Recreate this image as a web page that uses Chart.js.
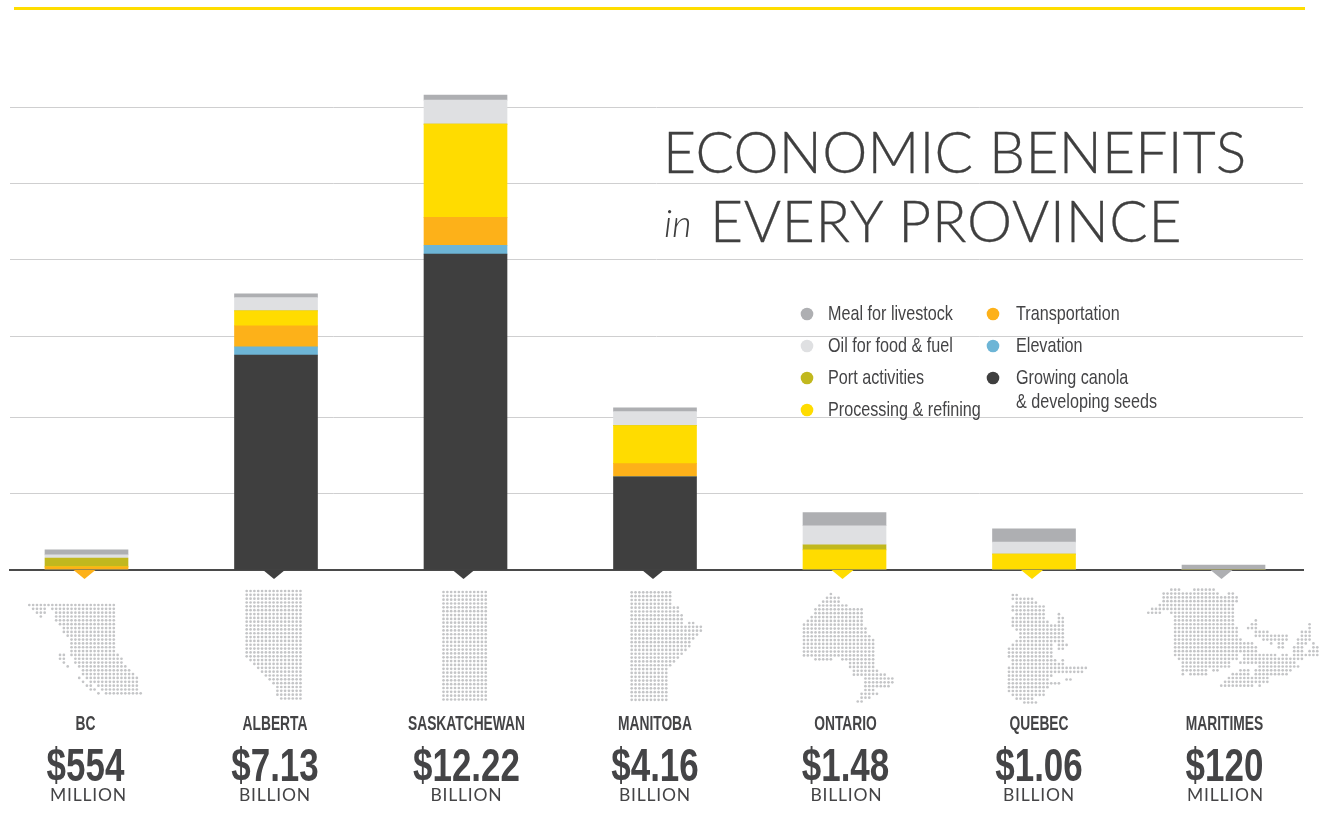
<!DOCTYPE html>
<html>
<head>
<meta charset="utf-8">
<title>Economic benefits in every province</title>
<script src="https://cdn.jsdelivr.net/npm/chart.js@4/dist/chart.umd.min.js"></script>
<style>
  html, body { margin: 0; padding: 0; background: #fff; }
  #wrap { position: relative; width: 1320px; height: 819px; overflow: hidden; }
  #rule { position: absolute; left: 14px; top: 7px; width: 1291px; height: 3px; background: #ffdd00; }
  canvas { position: absolute; left: 0; top: 0; }
  .title { position: absolute; color: #3f3f3f; font-family: Lato, sans-serif; font-weight: 300; font-size: 57px; line-height: 60px; white-space: nowrap; -webkit-text-stroke: 0.3px #3f3f3f; }
  .title.small { font-size: 38px; font-style: italic; -webkit-text-stroke: 0; }
</style>
</head>
<body>
<div id="wrap">
  <canvas id="chart" width="1320" height="819"></canvas>
  <div id="rule"></div>
  <div class="title" style="left:663px;top:121px;letter-spacing:0.25px;">ECONOMIC BENEFITS</div>
  <div class="title small" style="left:664px;top:192px;">in</div>
  <div class="title" style="left:710px;top:190px;letter-spacing:0.7px;">EVERY PROVINCE</div>
</div>
<script>
// values in billions of dollars
var provinces = ["BC", "ALBERTA", "SASKATCHEWAN", "MANITOBA", "ONTARIO", "QUEBEC", "MARITIMES"];
var totals = ["$554", "$7.13", "$12.22", "$4.16", "$1.48", "$1.06", "$120"];
var units = ["MILLION", "BILLION", "BILLION", "BILLION", "BILLION", "BILLION", "MILLION"];

var growing = [0, 5.54, 8.14, 2.40, 0, 0, 0];
var elevation = [0, 0.21, 0.23, 0, 0, 0, 0];
var transportation = [0.08, 0.54, 0.72, 0.34, 0, 0, 0];
var processing = [0, 0.39, 2.40, 0.98, 0.52, 0.41, 0];
var port = [0.23, 0, 0, 0, 0.13, 0, 0];
var oil = [0.08, 0.34, 0.62, 0.36, 0.49, 0.31, 0];
var meal = [0.13, 0.10, 0.13, 0.10, 0.34, 0.34, 0.13];

var gridTicks = [1.96, 3.94, 6.01, 7.99, 9.97, 11.91];

// dot maps, one string per row, "from-to" column runs
var mapBC = ["0-22", "1-4,6-22", "2-4,7-22", "3,7-22", "7-22", "8-22", "9-22", "9-22", "10-22", "11-22", "11-22", "11-22", "11-22",
  "8-9,11-23", "8-9,12-24", "9,12-24", "10,13-25", "14-26", "14-27", "13,15-28", "14,16-28", "15-16,18-28", "16-17,19-28", "18,20-29"];
var mapAlberta = ["0-14", "0-14", "0-14", "0-14", "0-14", "0-14", "0-14", "0-14", "0-14", "0-14", "0-14", "0-14", "0-14", "0-14", "0-14", "0-14", "0-14", "0-14",
  "1-14", "2-14", "3-14", "4-14", "5-14", "6-14", "7-14", "8-14", "8-14", "8-14", "9-14"];
var mapSask = ["0-11", "0-11", "0-11", "0-11", "0-11", "0-11", "0-11", "0-11", "0-11", "0-11", "0-11", "0-11", "0-11", "0-11", "0-11",
  "0-11", "0-11", "0-11", "0-11", "0-11", "0-11", "0-11", "0-11", "0-11", "0-11", "0-11", "0-11", "0-11", "0-11"];
var mapManitoba = ["0-10", "0-10", "0-10", "0-10", "0-12", "0-12", "0-13", "0-13", "0-13,15-16", "0-18", "0-18", "0-17", "0-16", "0-15", "0-15", "0-14", "0-13", "0-12", "0-11", "0-10",
  "0-9", "0-9", "0-9", "0-9", "0-9", "0-9", "0-9", "0-9", "0-9"];
var mapOntario = ["7", "6-9", "5-9", "4-11", "3-15", "3-15", "2-15", "1-15", "0-15", "0-16", "0-16", "0-17", "0-18", "0-18", "0-18", "0-18", "0-18",
  "3-7,10-18", "12-18", "12-18", "13-19", "13-21", "16-23", "16-23", "16-22", "16-18", "15-19", "15-17", "14-15"];
var mapQuebec = ["1-2", "1-6", "2-7", "1-9", "1-9", "2-9,13", "1-9,13-14", "1-10,13-14", "1-14", "2-14", "3-14", "3-14", "2-14", "1-11,13-15", "0-11,13-14", "0-11", "0-11",
  "1-12,14", "1-14", "0-20", "0-19", "0-11", "0-10,15-16", "0-13", "0-10", "0-9", "1-9", "2-6", "4-7"];
var mapMaritimes = ["6-8,12-17", "4-18,21-22", "4-23", "4-23", "3-22", "1-2,3-22", "0-3,6-22", "7-22", "7-22,28", "7-22,27-28,42", "7-23,26-28,42", "7-23,28-31,40-42", "7-23,28-36,40-42",
  "7-24,30-36,39-42", "7-27,32,34-35,39-41,43", "7-28,34-35,38-40,43-44", "7-28,38-40,42-44", "7-23,25-33,35-36,38-44", "8-23,25-40", "9-21,24-38", "9-21,29-39",
  "9-15,17-18,24-26,28-37", "9,11-15,22-26,28-36", "21-31", "20-31", "19-27,29"];

var maps = [mapBC, mapAlberta, mapSask, mapManitoba, mapOntario, mapQuebec, mapMaritimes];
var mapOrigins = [[29.3, 605], [246.7, 591], [443.5, 592], [631.7, 592.3], [804, 594], [1009, 595], [1148.3, 589.7]];
var DOT_STEP = 3.84;

var textDark = "#444446";
var sansFont = '"Liberation Sans", sans-serif';

function series(label, color, values) {
  return {
    label: label,
    backgroundColor: color,
    borderWidth: 0,
    barThickness: 83,
    stack: "all",
    data: values.map(function (v, i) { return { x: i, y: v }; })
  };
}

var datasets = [
  series("Growing canola\n& developing seeds", "#3f3f3f", growing),
  series("Elevation", "#6db5d6", elevation),
  series("Transportation", "#fdb119", transportation),
  series("Processing & refining", "#ffdc00", processing),
  series("Port activities", "#c1b81e", port),
  series("Oil for food & fuel", "#dfe0e2", oil),
  series("Meal for livestock", "#aeafb2", meal)
];

// legend columns, indexes into datasets
var legendCols = [
  { dot: 807, text: 828, items: [6, 5, 4, 3] },
  { dot: 993, text: 1016, items: [2, 1, 0] }
];
var legendRows = [314, 346, 378, 410];

var labelNudge = [-1, -1, 1, 0, 1, 5, 1];
var unitNudge = [3, 0, 0, 0, 1, 0, 1];

// no narrow font is installed, so squeeze the sans one
function narrowText(ctx, text, x, y, font, squeeze) {
  ctx.save();
  ctx.translate(x, y);
  ctx.scale(squeeze, 1);
  ctx.font = font;
  ctx.fillText(text, 0, 0);
  ctx.restore();
}

var provincePlugin = {
  id: "provinceExtras",
  afterDatasetsDraw: function (chart) {
    var ctx = chart.ctx, x = chart.scales.x, base = chart.scales.y.getPixelForValue(0);
    ctx.save();

    // little pointer under each bar, in the colour of its lowest segment
    provinces.forEach(function (p, i) {
      var ds = datasets.filter(function (d) { return d.data[i].y > 0; })[0];
      var cx = x.getPixelForValue(i) - 2;
      ctx.fillStyle = ds.backgroundColor;
      ctx.beginPath();
      ctx.moveTo(cx - 11, base);
      ctx.lineTo(cx + 11, base);
      ctx.lineTo(cx, base + 9);
      ctx.closePath();
      ctx.fill();
    });

    // dot maps
    ctx.fillStyle = "#c4c5c7";
    maps.forEach(function (rows, m) {
      rows.forEach(function (row, r) {
        row.split(",").forEach(function (run) {
          var ends = run.split("-");
          var from = +ends[0], to = +ends[ends.length - 1];
          for (var c = from; c <= to; c++) {
            ctx.beginPath();
            ctx.arc(mapOrigins[m][0] + c * DOT_STEP, mapOrigins[m][1] + r * DOT_STEP, 1.35, 0, Math.PI * 2);
            ctx.fill();
          }
        });
      });
    });

    // province names and amounts
    ctx.textAlign = "center";
    ctx.textBaseline = "alphabetic";
    ctx.fillStyle = textDark;
    provinces.forEach(function (p, i) {
      var cx = x.getPixelForValue(i) + labelNudge[i];
      narrowText(ctx, p, cx, 730, "bold 20px " + sansFont, 0.69);
      narrowText(ctx, totals[i], cx, 781, "bold 46px " + sansFont, 0.76);
      ctx.font = "400 17.5px Lato, sans-serif";
      ctx.letterSpacing = "0.8px";
      ctx.fillText(units[i], cx + unitNudge[i], 801);
      ctx.letterSpacing = "0px";
    });

    // legend
    ctx.textAlign = "left";
    ctx.textBaseline = "middle";
    legendCols.forEach(function (col) {
      col.items.forEach(function (idx, r) {
        var ds = datasets[idx], y = legendRows[r];
        ctx.fillStyle = ds.backgroundColor;
        ctx.beginPath();
        ctx.arc(col.dot, y, 6.3, 0, Math.PI * 2);
        ctx.fill();
        ctx.fillStyle = textDark;
        ds.label.split("\n").forEach(function (line, k) {
          narrowText(ctx, line, col.text, y + k * 24, "21px " + sansFont, 0.77);
        });
      });
    });
    ctx.restore();
  }
};

var config = {
  type: "bar",
  data: { datasets: datasets },
  plugins: [provincePlugin],
  options: {
    responsive: false,
    animation: false,
    layout: { padding: { left: 10, right: 17, top: 60, bottom: 0 } },
    plugins: {
      legend: { display: false },
      title: { display: false },
      tooltip: { enabled: false }
    },
    scales: {
      x: {
        type: "linear",
        offset: false,
        min: -0.4037,
        max: 6.4195,
        grid: { display: false },
        border: { color: "#4a4a4a", width: 2 },
        afterFit: function (scale) { scale.height = 249; },
        ticks: { display: false }
      },
      y: {
        stacked: true,
        min: 0,
        max: 13.144,
        border: { display: false },
        grid: { color: "#cfcfd0", lineWidth: 1, drawTicks: false },
        ticks: { display: false },
        afterBuildTicks: function (scale) {
          scale.ticks = [0].concat(gridTicks).map(function (v) { return { value: v }; });
        }
      }
    }
  }
};

var chart = new Chart(document.getElementById("chart"), config);
</script>
</body>
</html>
